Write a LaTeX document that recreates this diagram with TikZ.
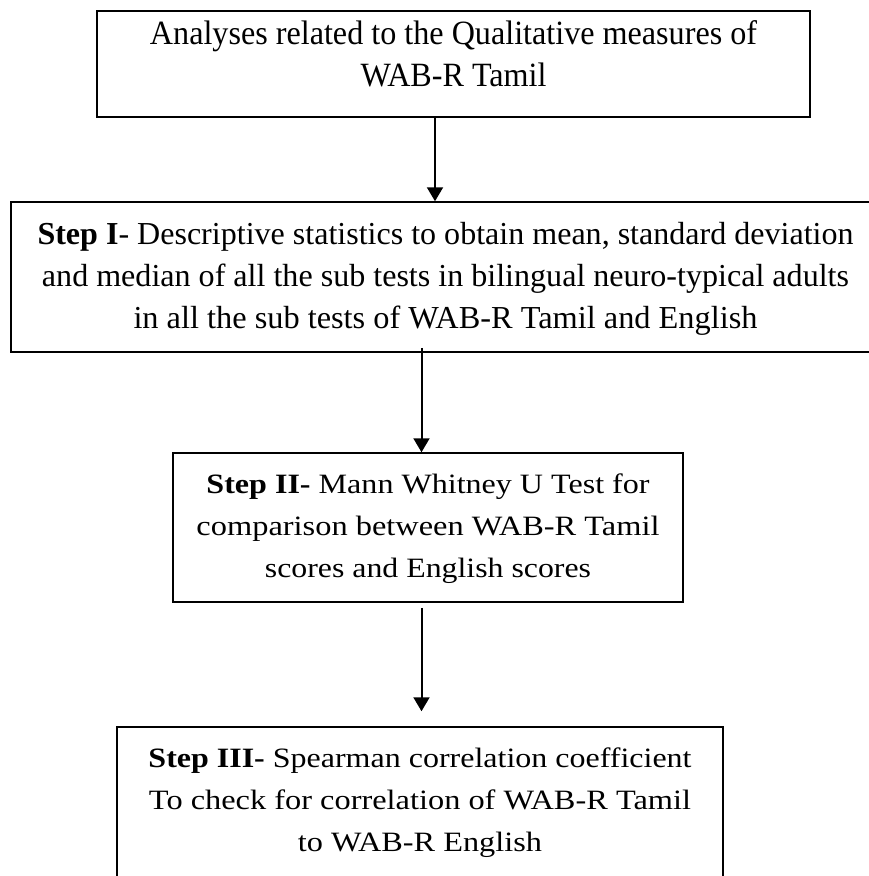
\documentclass[tikz,border=0pt]{standalone}
\usepackage{fontspec}
\setmainfont{Liberation Serif}
\usetikzlibrary{arrows.meta}
\newcommand\fitw[2]{\resizebox{#1pt}{\height}{#2}}
\tikzset{
  stepbox/.style={draw, line width=1.5pt, rectangle, inner sep=0pt},
  txt/.style={inner sep=0pt, anchor=base},
  arr/.style={line width=2pt, -{Triangle[length=14pt,width=16pt]}},
}
\begin{document}
\begin{tikzpicture}[x=1pt,y=-1pt]
\useasboundingbox (0,0) rectangle (869,876);
\clip (0,0) rectangle (869,876);
% boxes
\node[stepbox, minimum width=713pt, minimum height=106pt] (box1) at (453.5,64) {};
\node[stepbox, minimum width=869pt, minimum height=150pt] (box2) at (445.5,277) {};
\node[stepbox, minimum width=510pt, minimum height=149pt] (box3) at (428,527.5) {};
\node[stepbox, minimum width=606pt, minimum height=153pt] (box4) at (420,803.5) {};
% texts
\node[txt] (t1) at (453.5,44) {\fontsize{34}{42}\selectfont\begin{tabular}[t]{@{}c@{}}
\fitw{607}{Analyses related to the Qualitative measures of}\\
\fitw{186}{WAB-R Tamil}\end{tabular}};
\node[txt] (t2) at (445.5,244) {\fontsize{32}{42}\selectfont\begin{tabular}[t]{@{}c@{}}
\fitw{816}{\textbf{Step I}- Descriptive statistics to obtain mean, standard deviation}\\
\fitw{807}{and median of all the sub tests in bilingual neuro-typical adults}\\
\fitw{624}{in all the sub tests of WAB-R Tamil and English}\end{tabular}};
\node[txt] (t3) at (428,493) {\fontsize{28}{42}\selectfont\begin{tabular}[t]{@{}c@{}}
\fitw{443}{\textbf{Step II-} Mann Whitney U Test for}\\
\fitw{463}{comparison between WAB-R Tamil}\\
\fitw{326}{scores and English scores}\end{tabular}};
\node[txt] (t4) at (420,767) {\fontsize{28}{42}\selectfont\begin{tabular}[t]{@{}c@{}}
\fitw{543}{\textbf{Step III-} Spearman correlation coefficient}\\
\fitw{542}{To check for correlation of WAB-R Tamil}\\
\fitw{244}{to WAB-R English}\end{tabular}};
% connector x positions
\coordinate (c1) at (435,0);
\coordinate (c2) at (421.5,0);
% connectors
\draw[arr] (box1.south -| c1) -- (box2.north -| c1);
\draw[arr] ([yshift=5pt]box2.south -| c2) -- (box3.north -| c2);
\draw[arr] ([yshift=-5pt]box3.south -| c2) -- ([yshift=15pt]box4.north -| c2);
\end{tikzpicture}
\end{document}
